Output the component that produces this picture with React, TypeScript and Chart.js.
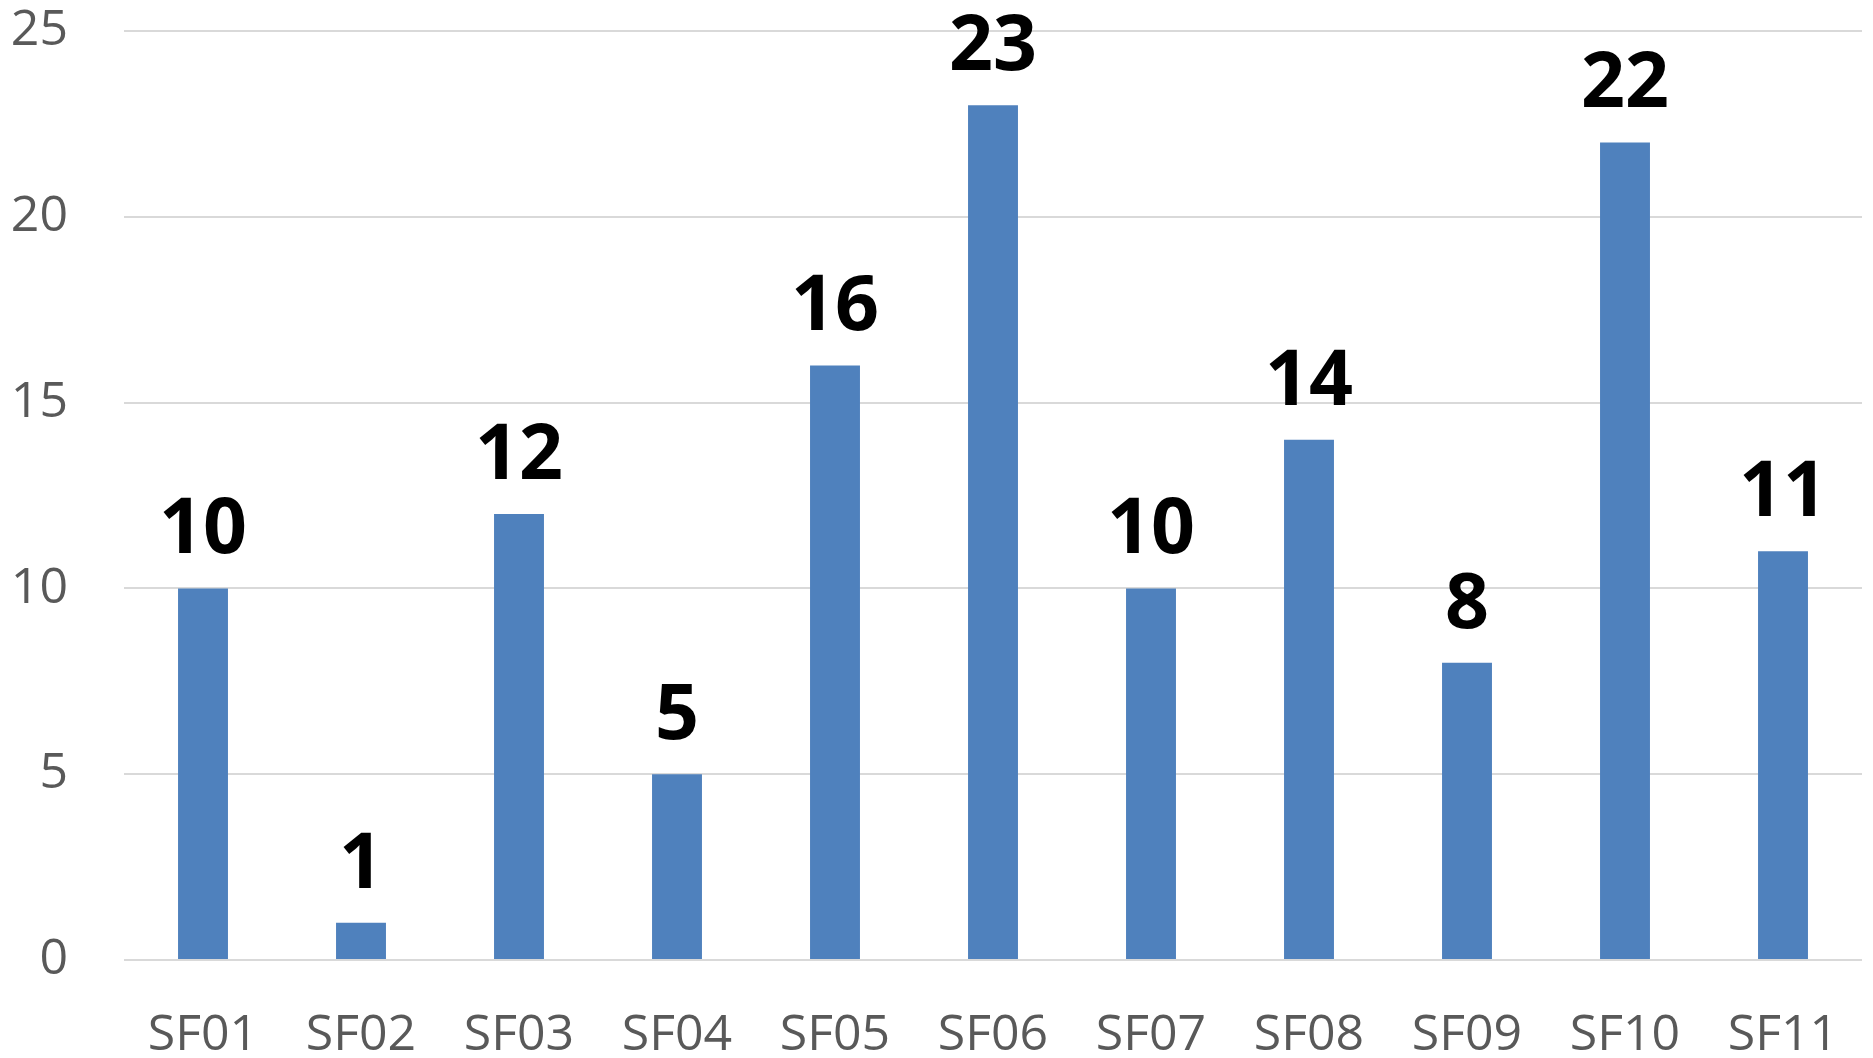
import React, { useEffect, useRef } from "react";
import { Chart, registerables } from "chart.js";

Chart.register(...registerables);

const categories = ["SF01", "SF02", "SF03", "SF04", "SF05", "SF06", "SF07", "SF08", "SF09", "SF10", "SF11"];
const values = [10, 1, 12, 5, 16, 23, 10, 14, 8, 22, 11];
const yTicks = [0, 5, 10, 15, 20, 25];

const BAR_COLOR = "#4F81BD";
const GRID_COLOR = "#D9D9D9";
const TICK_COLOR = "#595959";

const dataLabelPlugin = {
  id: "dataLabels",
  afterDatasetsDraw(chart: any) {
    const ctx = chart.ctx;
    const meta = chart.getDatasetMeta(0);
    ctx.save();
    ctx.fillStyle = "#000000";
    ctx.font = "bold 77px 'Noto Sans'";
    ctx.textAlign = "center";
    ctx.textBaseline = "alphabetic";
    meta.data.forEach((bar: any, i: number) => {
      const v = chart.data.datasets[0].data[i];
      ctx.fillText(String(v), bar.x, bar.y - 35);
    });
    ctx.restore();
  },
};

export default function App() {
  const ref = useRef<HTMLCanvasElement | null>(null);
  useEffect(() => {
    if (!ref.current) return;
    const chart = new Chart(ref.current, {
      type: "bar",
      data: {
        labels: categories,
        datasets: [
          {
            data: values,
            backgroundColor: BAR_COLOR,
            barPercentage: 0.316,
            categoryPercentage: 1,
          },
        ],
      },
      options: {
        animation: false,
        responsive: false,
        devicePixelRatio: 1,
        layout: { padding: { top: 31, right: 11, left: 0, bottom: 0 } },
        plugins: { legend: { display: false }, tooltip: { enabled: false } },
        scales: {
          x: {
            grid: { display: false },
            border: { display: false },
            ticks: {
              color: TICK_COLOR,
              font: { family: "'Open Sans'", size: 50 },
              padding: 38,
              maxRotation: 0,
            },
            afterFit: (s: any) => {
              s.height = 98;
              s.paddingLeft = 0;
              s.paddingRight = 0;
            },
          },
          y: {
            min: 0,
            max: 25,
            afterBuildTicks: (s: any) => {
              s.ticks = yTicks.map((v) => ({ value: v }));
            },
            grid: { color: GRID_COLOR, lineWidth: 2, drawTicks: false },
            border: { display: false },
            ticks: {
              color: TICK_COLOR,
              font: { family: "'Open Sans'", size: 50 },
              padding: 56,
            },
            afterFit: (s: any) => {
              s.width = 124;
              s.paddingTop = 0;
              s.paddingBottom = 0;
            },
          },
        },
      },
      plugins: [dataLabelPlugin],
    });
    return () => chart.destroy();
  }, []);
  return (
    <div style={{ position: "fixed", left: 0, top: 0, width: 1873, height: 1058, background: "#fff" }}>
      <canvas ref={ref} width={1873} height={1058} style={{ width: 1873, height: 1058 }} />
    </div>
  );
}
